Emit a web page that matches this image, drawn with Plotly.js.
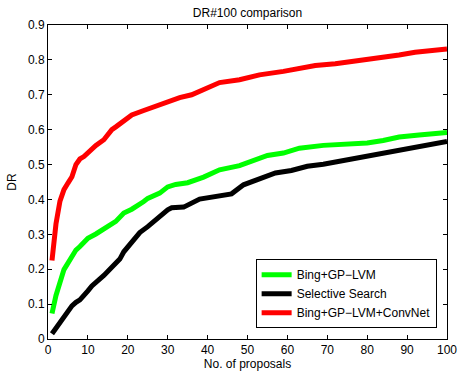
<!DOCTYPE html>
<html><head><meta charset="utf-8">
<script src="https://cdn.plot.ly/plotly-3.0.1.min.js"></script>
<style>html,body{margin:0;padding:0;background:#fff;}#chart{width:458px;height:371px;}</style>
</head><body><div id="chart"></div>
<script>
const seriesNames = ["Bing+GP\u2212LVM", "Selective Search", "Bing+GP\u2212LVM+ConvNet"];
const greenX = [1,2,4,6,7,8,10,12,14,16,17,19,21,24,25,28,30,32,35,39,43,48,51,55,59,63,69,76,80,84,88,93,100];
const greenY = [0.073,0.125,0.199,0.238,0.255,0.265,0.289,0.301,0.317,0.329,0.337,0.361,0.372,0.394,0.403,0.418,0.436,0.443,0.448,0.464,0.485,0.497,0.510,0.526,0.533,0.547,0.555,0.559,0.562,0.569,0.579,0.585,0.592];
const blackX = [1,3,5,6,7,8,10,11,14,16,18,19,21,23,25,27,30,31,34,38,42,46,49,53,57,61,65,69,73,77,82,87,92,100];
const blackY = [0.015,0.048,0.078,0.095,0.105,0.112,0.138,0.152,0.182,0.206,0.229,0.250,0.275,0.305,0.322,0.342,0.370,0.376,0.378,0.401,0.409,0.416,0.442,0.458,0.476,0.483,0.495,0.501,0.509,0.520,0.528,0.537,0.550,0.566];
const redX = [1,2,3,4,5,6,7,8,9,10,11,12,14,16,17,19,21,24,27,30,33,36,38,40,43,48,53,59,63,67,72,76,80,84,88,92,97,100];
const redY = [0.225,0.330,0.395,0.428,0.447,0.465,0.500,0.516,0.523,0.535,0.545,0.555,0.571,0.600,0.608,0.625,0.642,0.655,0.668,0.681,0.692,0.700,0.710,0.722,0.735,0.743,0.757,0.767,0.774,0.784,0.789,0.795,0.800,0.808,0.814,0.822,0.829,0.831];
const xTicks = [0,10,20,30,40,50,60,70,80,90,100];
const yTicks = [0,0.1,0.2,0.3,0.4,0.5,0.6,0.7,0.8,0.9];
const yTickText = ["0","0.1","0.2","0.3","0.4","0.5","0.6","0.7","0.8","0.9"];

const font = {family: "Liberation Sans, Arial, sans-serif", size: 12, color: "#000"};
const traces = [
  {x: greenX, y: greenY, name: seriesNames[0], mode: "lines", line: {color: "#00ff00", width: 5}},
  {x: blackX, y: blackY, name: seriesNames[1], mode: "lines", line: {color: "#000000", width: 5}},
  {x: redX, y: redY, name: seriesNames[2], mode: "lines", line: {color: "#ff0000", width: 5}}
];
const axisCommon = {showline: true, linecolor: "#000", linewidth: 1, mirror: "ticks", ticks: "inside", ticklen: 4, tickcolor: "#000", showgrid: false, zeroline: false, tickfont: font};
const layout = {
  width: 458, height: 371,
  margin: {l: 48, r: 11, t: 25, b: 32},
  paper_bgcolor: "#fff", plot_bgcolor: "#fff",
  font: font,
  title: {text: "DR#100 comparison", font: {family: font.family, size: 12, color: "#000"}, x: 0.5, xref: "paper", y: 0.965, yref: "container", yanchor: "middle"},
  xaxis: Object.assign({}, axisCommon, {range: [0, 100], tickvals: xTicks, ticktext: xTicks.map(String), title: {text: "No. of proposals", font: font, standoff: 1}}),
  yaxis: Object.assign({}, axisCommon, {range: [0, 0.9], tickvals: yTicks, ticktext: yTickText, title: {text: "DR", font: font, standoff: 8}}),
  legend: {x: 0.974, y: 0.254, xanchor: "right", yanchor: "top", bordercolor: "#000", borderwidth: 1, bgcolor: "#fff", font: font, tracegroupgap: 0},
  showlegend: true
};
Plotly.newPlot("chart", traces, layout, {staticPlot: true, displayModeBar: false});
</script></body></html>
